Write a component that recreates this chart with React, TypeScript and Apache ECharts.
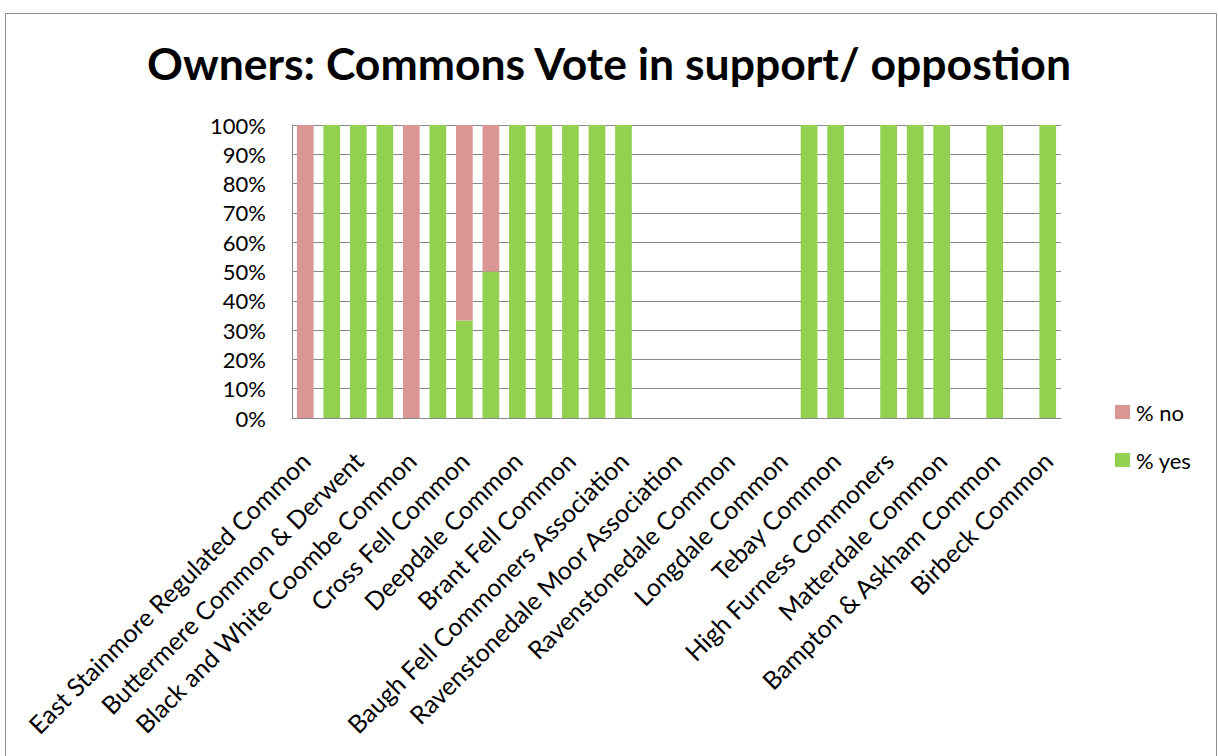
import React, { useEffect, useRef } from "react";
import * as echarts from "echarts";

const titleText = "Owners: Commons Vote in support/ oppostion";

const categories: string[] = [
  "East Stainmore Regulated Common", "",
  "Buttermere Common & Derwent", "",
  "Black and White Coombe Common", "",
  "Cross Fell Common", "",
  "Deepdale Common", "",
  "Brant Fell Common", "",
  "Baugh Fell Commoners Association", "",
  "Ravenstonedale Moor Association", "",
  "Ravenstonedale Common", "",
  "Longdale Common", "",
  "Tebay Common", "",
  "High Furness Commoners", "",
  "Matterdale Common", "",
  "Bampton & Askham Common", "",
  "Birbeck Common",
];

const pctYes: number[] = [
  0, 100, 100, 100, 0, 100, 33.3, 50, 100, 100, 100, 100, 100,
  0, 0, 0, 0, 0, 0, 100, 100, 0, 100, 100, 100, 0, 100, 0, 100,
];

const pctNo: number[] = [
  100, 0, 0, 0, 100, 0, 66.7, 50, 0, 0, 0, 0, 0,
  0, 0, 0, 0, 0, 0, 0, 0, 0, 0, 0, 0, 0, 0, 0, 0,
];

const seriesNames = ["% yes", "% no"];
const yTicks = { min: 0, max: 100, interval: 10 };

const FONT = "Lato, 'Open Sans', sans-serif";

export default function App() {
  const ref = useRef<HTMLDivElement>(null);
  useEffect(() => {
    document.body.style.margin = "0";
    const chart = echarts.init(ref.current!, null, { renderer: "svg" });
    chart.setOption({
      animation: false,
      backgroundColor: "#ffffff",
      textStyle: { fontFamily: FONT },
      graphic: [
        {
          type: "rect",
          shape: { x: 5.5, y: 13.5, width: 1211, height: 800 },
          style: { fill: "none", stroke: "#8c8c8c", lineWidth: 1 },
          silent: true,
        },
      ],
      title: {
        text: titleText,
        left: "center",
        top: 35,
        textStyle: { fontFamily: FONT, fontSize: 44.5, fontWeight: "bold", color: "#000" },
      },
      legend: {
        orient: "vertical",
        left: 1110,
        top: 396,
        itemWidth: 15,
        itemHeight: 14,
        itemGap: 26,
        icon: "rect",
        data: ["% no", "% yes"],
        textStyle: { fontFamily: FONT, fontSize: 22, color: "#000", padding: [0, 0, 0, 1] },
      },
      grid: { left: 292, right: 157, top: 125, bottom: 338, containLabel: false },
      xAxis: {
        type: "category",
        data: categories,
        axisLine: { show: true, lineStyle: { color: "#888", width: 1 } },
        axisTick: { show: false },
        axisLabel: {
          interval: 1,
          rotate: 45,
          margin: 38,
          fontSize: 25,
          color: "#000",
          fontFamily: FONT,
        },
      },
      yAxis: {
        type: "value",
        min: yTicks.min,
        max: yTicks.max,
        interval: yTicks.interval,
        axisLine: { show: true, lineStyle: { color: "#888", width: 1 } },
        axisTick: { show: false },
        splitLine: { show: true, lineStyle: { color: "#888", width: 1 } },
        axisLabel: {
          formatter: "{value}%",
          fontSize: 22,
          color: "#000",
          margin: 26,
          fontFamily: FONT,
        },
      },
      series: [
        {
          name: seriesNames[0],
          type: "bar",
          stack: "total",
          data: pctYes,
          barCategoryGap: "37%",
          itemStyle: { color: "#92D050" },
        },
        {
          name: seriesNames[1],
          type: "bar",
          stack: "total",
          data: pctNo,
          barCategoryGap: "37%",
          itemStyle: { color: "#D99694" },
        },
      ],
    });
    return () => chart.dispose();
  }, []);
  return <div ref={ref} style={{ width: 1218, height: 756 }} />;
}
